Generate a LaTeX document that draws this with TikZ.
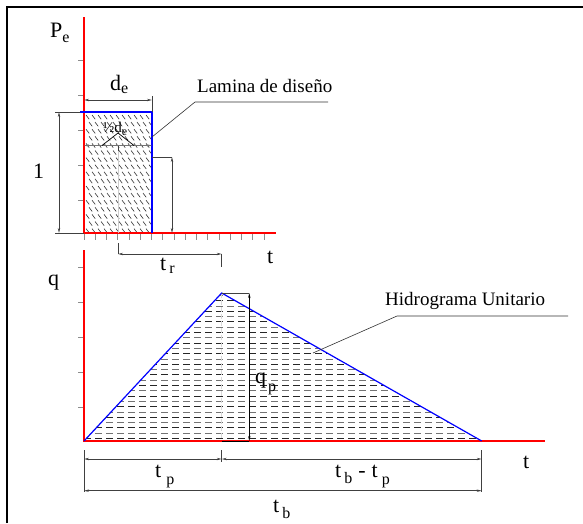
\documentclass[tikz,border=0pt]{standalone}
\usepackage{fontspec}
\setmainfont{Liberation Serif}
\usetikzlibrary{arrows.meta}
\newcommand\subt[2][6pt]{\raisebox{-#1}{\fontsize{16}{18}\selectfont #2}}
\begin{document}
\begin{tikzpicture}[x=1pt,y=-1pt,
  axis/.style={red, line width=1.2pt},
  curve/.style={blue, line width=1.2pt},
  tickmark/.style={black!45, line width=0.7pt},
  dimline/.style={black!75, line width=0.7pt},
  dimarrow/.style={dimline, {Stealth[length=5pt,width=2.4pt]}-{Stealth[length=5pt,width=2.4pt]}},
  lbl/.style={font=\fontsize{22}{25}\selectfont, inner sep=0pt, anchor=base west},
  note/.style={font=\fontsize{19}{22}\selectfont, inner sep=0pt, anchor=base west},
  leader/.style={black!80, line width=0.6pt},
  hatch/.style={black!80, line width=0.6pt}]
\useasboundingbox (0,0) rectangle (583,523);
% frame
\draw[line width=2pt] (7,523) -- (7,7) -- (583,7);

% ================= top plot =================
\coordinate (A0) at (84,233);
% hatch of rectangle
\begin{scope}
  \clip (84,112) rectangle (152,233);
  \foreach \r in {0,...,16} {
    \foreach \c in {0,...,11} {
      \draw[hatch] ({86+\c*6+mod(\r,2)*3}, {115+\r*7.1}) -- ++(3.2,4.2);
    }
  }
\end{scope}
% ticks
\foreach \yy in {60,95,130,165,200} \draw[tickmark] (78,\yy) -- (84,\yy);
\foreach \i in {0,...,16} \draw[tickmark] ({84+\i*11.25},233) -- ({84+\i*11.25},240);
% axes
\draw[axis] (84,17) -- (A0) -- (276,233);
% rectangle
\draw[curve] (80,112) -- (152,112) -- (152,233);
% dimension 1
\draw[dimline] (55,112) -- (80,112);
\draw[dimline] (55,233) -- (84,233);
\draw[dimarrow] (59,112) -- (59,233);
% dimension d_e
\draw[dimline] (152,96) -- (152,112);
\draw[dimarrow] (84,100) -- (152,100);
% half d_e
\draw[black!20, line width=0.8pt] (118,145.5) -- (118,233);
\draw[dimarrow, black!55] (84,145.5) -- (152,145.5);
\draw[dimline] (118,145.5) -- (118,151);
\draw[dimline, black] (102,145.5) -- (118,133) -- (134,145.5);
% small vertical dimension
\draw[dimline] (152,157) -- (172,157);
\draw[dimarrow] (172,157) -- (172,233);
% t_r dimension
\draw[dimline] (118,243) -- (118,254);
\draw[dimline] (221.7,254) -- (221.7,267);
\draw[dimarrow] (118,254) -- (221.7,254);
% leader Lamina
\draw[leader] (152,137) -- (195,102) -- (328,102);
% labels top
\node[lbl] (Pe) at (50,37) {P\subt[5pt]{e}};
\node[lbl] (one) at (33,178) {1};
\node[lbl] (de) at (110,90) {d\subt[3pt]{e}};
\node[inner sep=0pt, anchor=base west, font=\fontsize{15}{17}\selectfont] (hde) at (103,132) {½d\raisebox{-3pt}{\fontsize{12}{13}\selectfont e}};
\node[lbl] (tr) at (160,270) {t\hspace{3pt}\subt[3pt]{r}};
\node[lbl] (t1) at (267,263) {t};
\node[note] (lam) at (197,92) {Lamina de diseño};

% ================= bottom plot =================
\coordinate (B0) at (84,441);
\coordinate (Bpk) at (221.7,293);
\coordinate (Bend) at (481.7,441);
\begin{scope}
  \clip (B0) -- (Bpk) -- (Bend) -- cycle;
  \foreach \i in {0,2,...,28}
    \draw[black!85, line width=0.6pt, dash pattern=on 7pt off 4pt] (84,{438.3-\i*5.3}) -- (482,{438.3-\i*5.3});
  \foreach \i in {1,3,...,27}
    \draw[black!55, line width=0.6pt, dash pattern=on 7pt off 4pt] (84,{438.3-\i*5.3}) -- (482,{438.3-\i*5.3});
\end{scope}
\draw[black!15, line width=1pt, dash pattern=on 5pt off 2pt] (Bpk) -- (221.7,441);
% ticks
\foreach \yy in {267.7,302.7,337.7,372.7,407.7} \draw[tickmark] (78,\yy) -- (84,\yy);
% axes
\draw[axis] (84,250) -- (B0) -- (545,441);
% hydrograph
\draw[curve] (B0) -- (Bpk) -- (Bend);
% q_p dimension
\draw[dimline] (Bpk) -- (249.3,293);
\draw[dimline, black] (221.7,441) -- (249.3,441);
\draw[dimarrow, black] (249.3,293) -- (249.3,441);
% leader Hidrograma
\draw[leader] (313,353) -- (397,316) -- (568,316);
% bottom dimensions
\draw[dimline] (84,450) -- (84,492);
\draw[dimline] (221.7,450) -- (221.7,462);
\draw[dimline] (481.7,450) -- (481.7,492);
\draw[dimarrow] (84,459) -- (221.7,459);
\draw[dimarrow] (221.7,459) -- (481.7,459);
\draw[dimarrow] (84,490.7) -- (481.7,490.7);
% labels bottom
\node[lbl] (q) at (48,285) {q};
\node[lbl] (qp) at (255,383) {q\hspace{2pt}\subt[8pt]{p}};
\node[lbl] (t2) at (523,468) {t};
\node[lbl] (tp) at (155,477) {t\hspace{5pt}\subt[7pt]{p}};
\node[lbl] (tbtp) at (335,477) {t\hspace{3pt}\subt[6pt]{b}\hspace{6pt}-\hspace{6pt}t\hspace{4pt}\subt[7pt]{p}};
\node[lbl] (tb) at (273,512) {t\hspace{3pt}\subt[6pt]{b}};
\node[note] (hid) at (385,305) {Hidrograma Unitario};
\end{tikzpicture}
\end{document}
